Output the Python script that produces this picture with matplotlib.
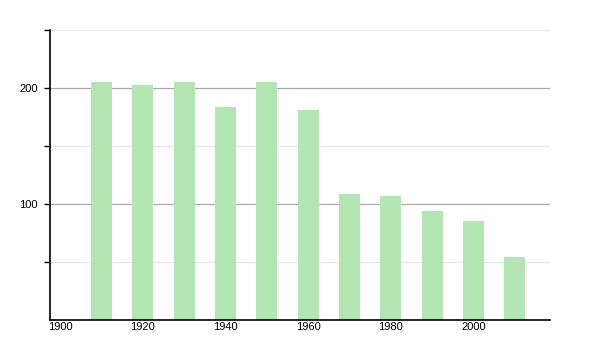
import matplotlib
matplotlib.use("Agg")
import matplotlib.pyplot as plt

years = [1910, 1920, 1930, 1940, 1950, 1960, 1970, 1980, 1990, 2000, 2010]
values = [205, 203, 205, 184, 205, 181, 109, 107, 94, 85, 54]
xticks = [1900, 1920, 1940, 1960, 1980, 2000]
yticks_major = [100, 200]
yticks_minor = [50, 150, 250]

plt.rcParams['font.family'] = ['Liberation Sans', 'DejaVu Sans']
fig = plt.figure(figsize=(6, 3.5), dpi=100)
ax = fig.add_axes([50/600, 30/350, 500/600, 290/350])

ax.bar(years, values, width=5.1, color='#b2e5b1', zorder=2)
ax.set_xlim(1897.55, 2018.5)
ax.set_ylim(0, 250)

for y in yticks_major:
    ax.axhline(y, color='#aaaaaa', lw=0.9, zorder=1)
for y in yticks_minor:
    ax.axhline(y, color='#e6e6e6', lw=0.9, zorder=1)

ax.set_yticks(yticks_major + yticks_minor)
ax.set_yticklabels([str(v) for v in yticks_major] + [''] * len(yticks_minor))
ax.set_xticks(xticks)
ax.set_xticklabels([str(v) for v in xticks])
ax.tick_params(axis='x', length=0, pad=1.5, labelsize=8)
ax.tick_params(axis='y', length=4, width=1, pad=5, labelsize=8)

for s in ['top', 'right']:
    ax.spines[s].set_visible(False)
for s in ['left', 'bottom']:
    ax.spines[s].set_color('black')
    ax.spines[s].set_linewidth(1.2)

fig.savefig('out.png', dpi=100)
